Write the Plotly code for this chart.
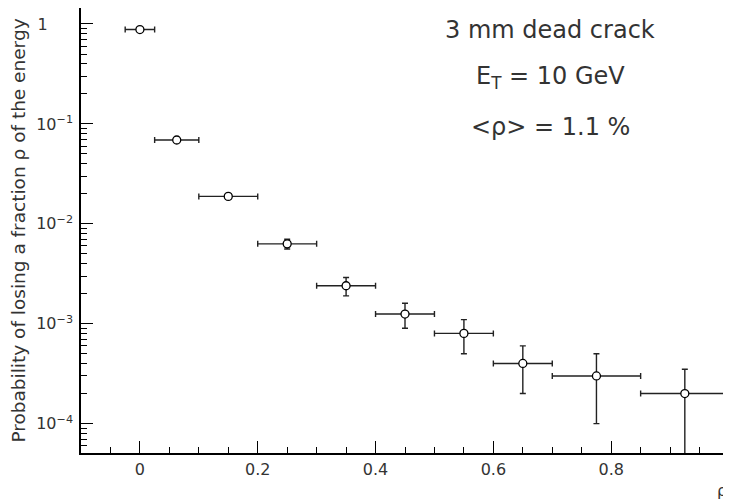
import plotly.graph_objects as go

rho = [0.0, 0.0625, 0.15, 0.25, 0.35, 0.45, 0.55, 0.65, 0.775, 0.925]
rho_err = [0.025, 0.0375, 0.05, 0.05, 0.05, 0.05, 0.05, 0.05, 0.075, 0.075]
prob = [0.88, 0.069, 0.0188, 0.0063, 0.0024, 0.00125, 0.0008, 0.0004, 0.0003, 0.0002]
prob_err = [0.02, 0.002, 0.0012, 0.0007, 0.0005, 0.00035, 0.0003, 0.0002, 0.0002, 0.00015]

y_tickvals = [1e-4, 1e-3, 1e-2, 1e-1, 1]
y_ticktext = ["10<sup>−4</sup>", "10<sup>−3</sup>", "10<sup>−2</sup>", "10<sup>−1</sup>",
              "1&nbsp;&nbsp;&nbsp;&nbsp;&nbsp;"]

fig = go.Figure()
fig.add_trace(go.Scatter(
    x=rho, y=prob, mode="markers",
    marker=dict(symbol="circle", size=8, color="white", line=dict(color="black", width=1.3)),
    error_x=dict(type="data", array=rho_err, color="#222", thickness=1.4, width=3),
    error_y=dict(type="data", array=prob_err, color="#222", thickness=1.4, width=3),
    showlegend=False,
))

# page has an 8px body margin; figure sized to fit the 731x503 window
W, H = 723, 495
ML, MR, MT, MB = 73, 2, 0, 50
font = "DejaVu Sans, sans-serif"
fig.update_layout(
    width=W, height=H,
    margin=dict(l=ML, r=MR, t=MT, b=MB),
    paper_bgcolor="white", plot_bgcolor="white",
    font=dict(family=font, size=16, color="#333"),
    xaxis=dict(
        range=[-0.1, 1.0], dtick=0.2, tick0=0, ticks="inside", ticklen=12, tickcolor="black",
        showgrid=False, zeroline=False, showline=True, linecolor="black", linewidth=1.5, mirror=True,
        automargin=False, ticklabelstandoff=1, ticklabeloverflow="allow",
        minor=dict(dtick=0.05, tick0=0, ticks="inside", ticklen=6, tickcolor="black"),
        tickfont=dict(size=16),
    ),
    yaxis=dict(
        type="log", range=[-4.294, 0.16], tickvals=y_tickvals, ticktext=y_ticktext,
        ticks="inside", ticklen=12, tickcolor="black",
        showgrid=False, zeroline=False, showline=True, linecolor="black", linewidth=1.5, mirror=True,
        automargin=False, ticklabelstandoff=3,
        minor=dict(dtick="D1", ticks="inside", ticklen=6, tickcolor="black"),
        tickfont=dict(size=16),
        title=dict(text="Probability of losing a fraction ρ of the energy", font=dict(size=18.5), standoff=6),
    ),
    annotations=[
        dict(x=550, y=30, text="3 mm dead crack", showarrow=False,
             font=dict(size=24), xanchor="center", yanchor="middle"),
        dict(x=550, y=78, text="E<sub>T</sub> = 10 GeV", showarrow=False,
             font=dict(size=24), xanchor="center", yanchor="middle"),
        dict(x=550, y=127, text="&lt;ρ&gt; = 1.1 %", showarrow=False,
             font=dict(size=24), xanchor="center", yanchor="middle"),
        dict(x=722, y=490, text="ρ", showarrow=False, font=dict(size=16),
             xanchor="center", yanchor="middle"),
    ],
)
# annotation positions given in window pixels -> paper coords
pw, ph = 648, 445
for a in fig.layout.annotations:
    px, py = a.x, a.y
    a.xref = "paper"; a.yref = "paper"
    a.x = (px - 81) / pw
    a.y = 1 - (py - 8) / ph

fig.write_html("out.html")
